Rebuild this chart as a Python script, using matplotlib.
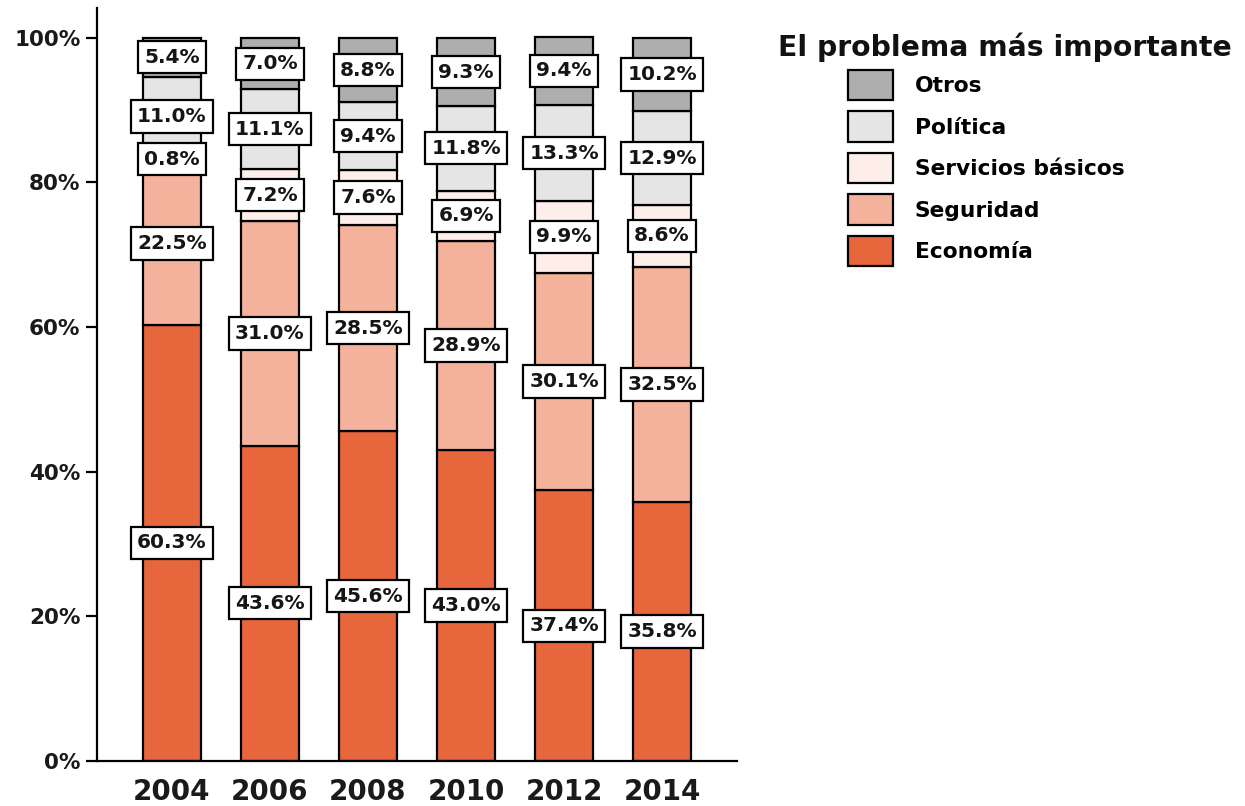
import matplotlib
matplotlib.use("Agg")
import matplotlib.pyplot as plt
from matplotlib.patches import Patch
import numpy as np

# datos: porcentaje del problema mas importante por año
years = ["2004", "2006", "2008", "2010", "2012", "2014"]
economia = [60.3, 43.6, 45.6, 43.0, 37.4, 35.8]
seguridad = [22.5, 31.0, 28.5, 28.9, 30.1, 32.5]
servicios = [0.8, 7.2, 7.6, 6.9, 9.9, 8.6]
politica = [11.0, 11.1, 9.4, 11.8, 13.3, 12.9]
otros = [5.4, 7.0, 8.8, 9.3, 9.4, 10.2]

series = [economia, seguridad, servicios, politica, otros]
names = ["Economía", "Seguridad", "Servicios básicos", "Política", "Otros"]
colors = ["#E8663C", "#F4B19B", "#FDEEEA", "#E5E5E5", "#AEAEAE"]

plt.rcParams["font.family"] = ["DejaVu Sans"]
plt.rcParams["font.weight"] = "bold"

fig = plt.figure(figsize=(12.45, 8.06), dpi=100)
ax = fig.add_axes([97 / 1245, 1 - 761 / 806, (737 - 97) / 1245, (761 - 8) / 806])

x = np.arange(len(years))
bottom = np.zeros(len(years))
for vals, name, col in zip(series, names, colors):
    vals = np.array(vals)
    ax.bar(x, vals, 0.6, bottom=bottom, color=col, edgecolor="black",
           linewidth=1.6, label=name, zorder=2)
    for xi, b, v in zip(x, bottom, vals):
        ax.text(xi, b + v / 2, "%.1f%%" % v, ha="center", va="center",
                fontsize=14.5, fontweight="bold", color="#151515", zorder=4,
                bbox=dict(boxstyle="square,pad=0.33", fc="white",
                          ec="black", lw=1.6))
    bottom = bottom + vals

ax.set_xlim(-0.765, 5.765)
ax.set_ylim(0, 104.1)
ax.set_yticks([0, 20, 40, 60, 80, 100])
ax.set_yticklabels(["0%", "20%", "40%", "60%", "80%", "100%"])
ax.set_xticks(x)
ax.set_xticklabels(years)

for s in ["top", "right"]:
    ax.spines[s].set_visible(False)
for s in ["left", "bottom"]:
    ax.spines[s].set_linewidth(1.6)
ax.tick_params(axis="y", length=8, width=1.6, pad=4, labelsize=15.5,
               labelcolor="#1a1a1a")
ax.tick_params(axis="x", length=0, pad=12, labelsize=20, labelcolor="#1a1a1a")

fig.text(778 / 1245, 1 - 56 / 806, "El problema más importante",
         fontsize=20.3, fontweight="bold", color="#111111", ha="left",
         va="baseline")

handles = [Patch(facecolor=c, edgecolor="black", linewidth=1.6, label=n)
           for c, n in zip(colors, names)][::-1]
fig.legend(handles=handles, loc="upper left",
           bbox_to_anchor=(848 / 1245, 1 - 70 / 806),
           frameon=False, borderpad=0, borderaxespad=0,
           handlelength=2.05, handleheight=1.75,
           labelspacing=0.52, handletextpad=1.0,
           prop={"weight": "bold", "size": 15.7})

fig.savefig("out.png", dpi=100)
